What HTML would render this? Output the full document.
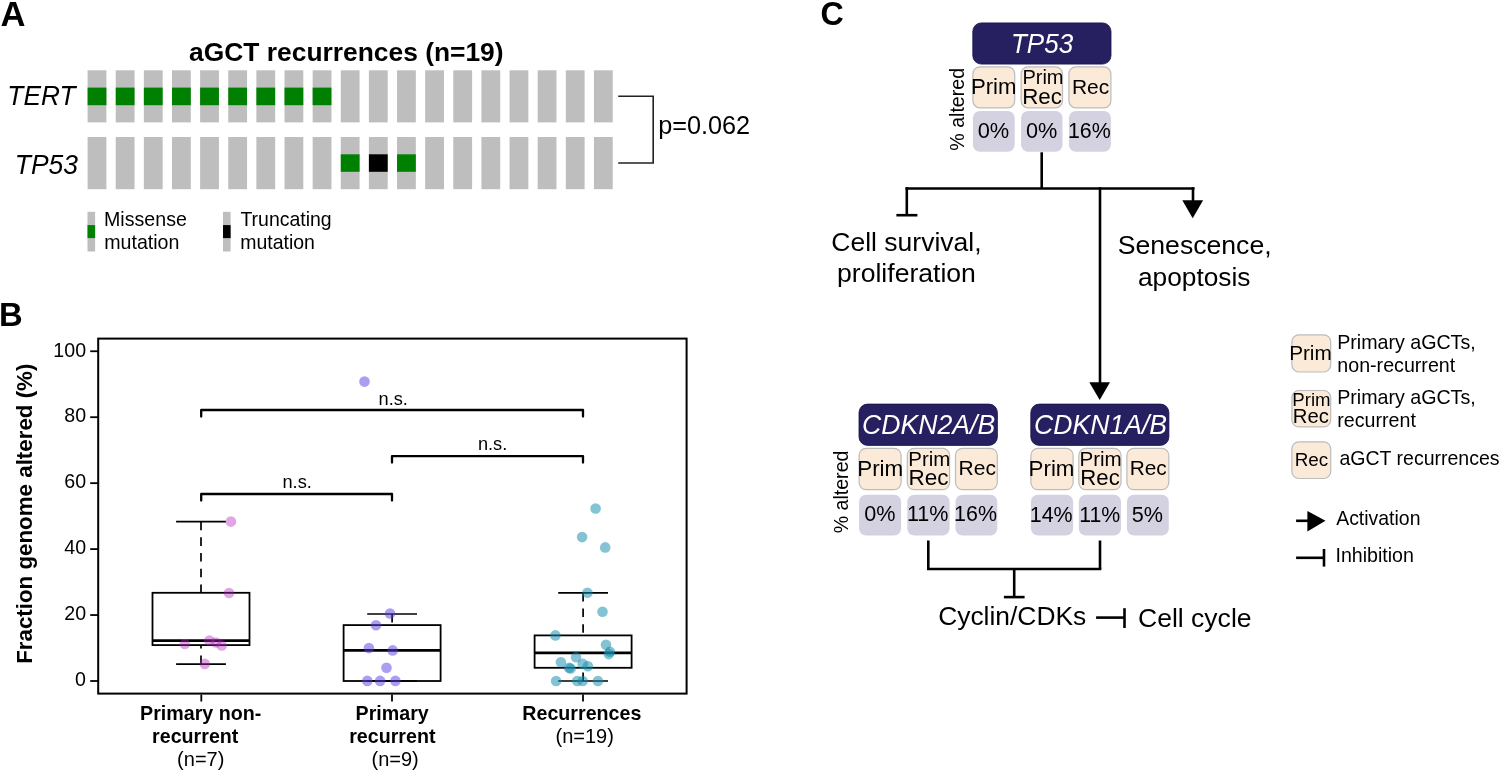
<!DOCTYPE html>
<html><head><meta charset="utf-8"><title>Figure</title>
<style>
html,body{margin:0;padding:0;background:#fff;}
body{width:1500px;height:771px;overflow:hidden;}
svg{display:block;font-family:"Liberation Sans", sans-serif;will-change:transform;}
</style></head>
<body>
<svg width="1500" height="771" viewBox="0 0 1500 771">
<rect width="1500" height="771" fill="#fff"/>
<text x="0.43" y="25.60" font-size="34.60" font-weight="bold">A</text>
<text x="189.11" y="60.50" font-size="26.39" font-weight="bold">aGCT recurrences (n=19)</text>
<text transform="translate(7.33,105.40) scale(1,1.050)" font-size="26.29" font-style="italic">TERT</text>
<text transform="translate(14.72,174.10) scale(1,1.040)" font-size="26.46" font-style="italic">TP53</text>
<rect x="87.60" y="70.30" width="18.80" height="52.10" fill="#bebebe"/>
<rect x="87.60" y="137.00" width="18.80" height="52.20" fill="#bebebe"/>
<rect x="87.60" y="87.60" width="18.80" height="17.60" fill="#008000"/>
<rect x="115.73" y="70.30" width="18.80" height="52.10" fill="#bebebe"/>
<rect x="115.73" y="137.00" width="18.80" height="52.20" fill="#bebebe"/>
<rect x="115.73" y="87.60" width="18.80" height="17.60" fill="#008000"/>
<rect x="143.86" y="70.30" width="18.80" height="52.10" fill="#bebebe"/>
<rect x="143.86" y="137.00" width="18.80" height="52.20" fill="#bebebe"/>
<rect x="143.86" y="87.60" width="18.80" height="17.60" fill="#008000"/>
<rect x="171.99" y="70.30" width="18.80" height="52.10" fill="#bebebe"/>
<rect x="171.99" y="137.00" width="18.80" height="52.20" fill="#bebebe"/>
<rect x="171.99" y="87.60" width="18.80" height="17.60" fill="#008000"/>
<rect x="200.12" y="70.30" width="18.80" height="52.10" fill="#bebebe"/>
<rect x="200.12" y="137.00" width="18.80" height="52.20" fill="#bebebe"/>
<rect x="200.12" y="87.60" width="18.80" height="17.60" fill="#008000"/>
<rect x="228.25" y="70.30" width="18.80" height="52.10" fill="#bebebe"/>
<rect x="228.25" y="137.00" width="18.80" height="52.20" fill="#bebebe"/>
<rect x="228.25" y="87.60" width="18.80" height="17.60" fill="#008000"/>
<rect x="256.38" y="70.30" width="18.80" height="52.10" fill="#bebebe"/>
<rect x="256.38" y="137.00" width="18.80" height="52.20" fill="#bebebe"/>
<rect x="256.38" y="87.60" width="18.80" height="17.60" fill="#008000"/>
<rect x="284.51" y="70.30" width="18.80" height="52.10" fill="#bebebe"/>
<rect x="284.51" y="137.00" width="18.80" height="52.20" fill="#bebebe"/>
<rect x="284.51" y="87.60" width="18.80" height="17.60" fill="#008000"/>
<rect x="312.64" y="70.30" width="18.80" height="52.10" fill="#bebebe"/>
<rect x="312.64" y="137.00" width="18.80" height="52.20" fill="#bebebe"/>
<rect x="312.64" y="87.60" width="18.80" height="17.60" fill="#008000"/>
<rect x="340.77" y="70.30" width="18.80" height="52.10" fill="#bebebe"/>
<rect x="340.77" y="137.00" width="18.80" height="52.20" fill="#bebebe"/>
<rect x="340.77" y="154.30" width="18.80" height="17.50" fill="#008000"/>
<rect x="368.90" y="70.30" width="18.80" height="52.10" fill="#bebebe"/>
<rect x="368.90" y="137.00" width="18.80" height="52.20" fill="#bebebe"/>
<rect x="368.90" y="154.30" width="18.80" height="17.50" fill="#000"/>
<rect x="397.03" y="70.30" width="18.80" height="52.10" fill="#bebebe"/>
<rect x="397.03" y="137.00" width="18.80" height="52.20" fill="#bebebe"/>
<rect x="397.03" y="154.30" width="18.80" height="17.50" fill="#008000"/>
<rect x="425.16" y="70.30" width="18.80" height="52.10" fill="#bebebe"/>
<rect x="425.16" y="137.00" width="18.80" height="52.20" fill="#bebebe"/>
<rect x="453.29" y="70.30" width="18.80" height="52.10" fill="#bebebe"/>
<rect x="453.29" y="137.00" width="18.80" height="52.20" fill="#bebebe"/>
<rect x="481.42" y="70.30" width="18.80" height="52.10" fill="#bebebe"/>
<rect x="481.42" y="137.00" width="18.80" height="52.20" fill="#bebebe"/>
<rect x="509.55" y="70.30" width="18.80" height="52.10" fill="#bebebe"/>
<rect x="509.55" y="137.00" width="18.80" height="52.20" fill="#bebebe"/>
<rect x="537.68" y="70.30" width="18.80" height="52.10" fill="#bebebe"/>
<rect x="537.68" y="137.00" width="18.80" height="52.20" fill="#bebebe"/>
<rect x="565.81" y="70.30" width="18.80" height="52.10" fill="#bebebe"/>
<rect x="565.81" y="137.00" width="18.80" height="52.20" fill="#bebebe"/>
<rect x="593.94" y="70.30" width="18.80" height="52.10" fill="#bebebe"/>
<rect x="593.94" y="137.00" width="18.80" height="52.20" fill="#bebebe"/>
<polyline points="618.2,96.2 653.2,96.2 653.2,163 618.2,163" fill="none" stroke="#222" stroke-width="1.6"/>
<text x="658.13" y="133.80" font-size="25.28">p=0.062</text>
<rect x="87.50" y="211.80" width="7.60" height="39.70" fill="#bebebe"/>
<rect x="87.50" y="225.10" width="7.60" height="13.00" fill="#008000"/>
<rect x="223.00" y="211.80" width="7.60" height="39.70" fill="#bebebe"/>
<rect x="223.00" y="225.10" width="7.60" height="13.00" fill="#000"/>
<text x="104.03" y="225.60" font-size="19.61">Missense</text>
<text x="240.41" y="225.60" font-size="19.48">Truncating</text>
<text x="104.23" y="249.00" font-size="19.61">mutation</text>
<text x="240.24" y="249.00" font-size="19.48">mutation</text>
<text transform="translate(-1.10,326.30) scale(1,1.030)" font-size="32.80" font-weight="bold">B</text>
<rect x="98.2" y="338.6" width="588.4" height="355.0" fill="none" stroke="#000" stroke-width="2"/>
<text transform="translate(53.33,357.00) scale(1,1.030)" font-size="19.61">100</text>
<text transform="translate(75.10,685.80) scale(1,1.030)" font-size="19.61">0</text>
<text transform="translate(64.31,619.85) scale(1,1.030)" font-size="19.61">20</text>
<text transform="translate(64.31,553.90) scale(1,1.030)" font-size="19.61">40</text>
<text transform="translate(64.31,487.95) scale(1,1.030)" font-size="19.61">60</text>
<text transform="translate(64.31,422.00) scale(1,1.030)" font-size="19.61">80</text>
<line x1="90.20" y1="681.00" x2="98.20" y2="681.00" stroke="#000" stroke-width="1.8"/>
<line x1="90.20" y1="615.05" x2="98.20" y2="615.05" stroke="#000" stroke-width="1.8"/>
<line x1="90.20" y1="549.10" x2="98.20" y2="549.10" stroke="#000" stroke-width="1.8"/>
<line x1="90.20" y1="483.15" x2="98.20" y2="483.15" stroke="#000" stroke-width="1.8"/>
<line x1="90.20" y1="417.20" x2="98.20" y2="417.20" stroke="#000" stroke-width="1.8"/>
<line x1="90.20" y1="351.25" x2="98.20" y2="351.25" stroke="#000" stroke-width="1.8"/>
<line x1="201.30" y1="694.60" x2="201.30" y2="701.50" stroke="#000" stroke-width="1.8"/>
<line x1="392.00" y1="694.60" x2="392.00" y2="701.50" stroke="#000" stroke-width="1.8"/>
<line x1="583.00" y1="694.60" x2="583.00" y2="701.50" stroke="#000" stroke-width="1.8"/>
<text x="140.12" y="719.50" font-size="19.65" font-weight="bold">Primary non-</text>
<text x="152.12" y="742.80" font-size="19.65" font-weight="bold">recurrent</text>
<text x="177.10" y="766.30" font-size="20.00">(n=7)</text>
<text x="355.62" y="719.60" font-size="19.65" font-weight="bold">Primary</text>
<text x="349.22" y="743.00" font-size="19.65" font-weight="bold">recurrent</text>
<text x="371.50" y="766.30" font-size="20.00">(n=9)</text>
<text x="522.32" y="719.50" font-size="19.65" font-weight="bold">Recurrences</text>
<text x="555.50" y="742.80" font-size="20.00">(n=19)</text>
<text x="0" y="0" font-size="22.34" font-weight="bold" transform="translate(31.8,663.86) rotate(-90)">Fraction genome altered (%)</text>
<polyline points="201.2,416.5 201.2,410.0 583.0,410.0 583.0,416.5" fill="none" stroke="#000" stroke-width="2.3" stroke-linejoin="round" stroke-linecap="round"/>
<polyline points="392.0,462.6 392.0,456.1 583.0,456.1 583.0,462.6" fill="none" stroke="#000" stroke-width="2.3" stroke-linejoin="round" stroke-linecap="round"/>
<polyline points="201.2,500.5 201.2,494.0 392.0,494.0 392.0,500.5" fill="none" stroke="#000" stroke-width="2.3" stroke-linejoin="round" stroke-linecap="round"/>
<text x="378.53" y="405.00" font-size="18.20">n.s.</text>
<text x="477.88" y="450.10" font-size="18.20">n.s.</text>
<text x="282.48" y="487.90" font-size="18.20">n.s.</text>
<line x1="201.00" y1="521.60" x2="201.00" y2="592.80" stroke="#000" stroke-width="1.7" stroke-dasharray="8.6 7.1"/>
<line x1="201.00" y1="664.10" x2="201.00" y2="645.10" stroke="#000" stroke-width="1.7" stroke-dasharray="8.6 7.1"/>
<line x1="176.10" y1="521.60" x2="225.90" y2="521.60" stroke="#000" stroke-width="1.7"/>
<line x1="176.10" y1="664.10" x2="225.90" y2="664.10" stroke="#000" stroke-width="1.7"/>
<rect x="152.50" y="592.80" width="97.00" height="52.30" fill="none" stroke="#000" stroke-width="1.8"/>
<line x1="152.50" y1="640.70" x2="249.50" y2="640.70" stroke="#000" stroke-width="2.8"/>
<line x1="392.10" y1="614.00" x2="392.10" y2="625.10" stroke="#000" stroke-width="1.7" stroke-dasharray="8.6 7.1"/>
<line x1="367.20" y1="614.00" x2="417.00" y2="614.00" stroke="#000" stroke-width="1.7"/>
<line x1="367.20" y1="681.00" x2="417.00" y2="681.00" stroke="#000" stroke-width="1.7"/>
<rect x="343.60" y="625.10" width="97.00" height="55.90" fill="none" stroke="#000" stroke-width="1.8"/>
<line x1="343.60" y1="650.40" x2="440.60" y2="650.40" stroke="#000" stroke-width="2.8"/>
<line x1="583.10" y1="592.80" x2="583.10" y2="635.40" stroke="#000" stroke-width="1.7" stroke-dasharray="8.6 7.1"/>
<line x1="583.10" y1="681.00" x2="583.10" y2="667.80" stroke="#000" stroke-width="1.7" stroke-dasharray="8.6 7.1"/>
<line x1="558.20" y1="592.80" x2="608.00" y2="592.80" stroke="#000" stroke-width="1.7"/>
<line x1="558.20" y1="681.00" x2="608.00" y2="681.00" stroke="#000" stroke-width="1.7"/>
<rect x="534.60" y="635.40" width="97.00" height="32.40" fill="none" stroke="#000" stroke-width="1.8"/>
<line x1="534.60" y1="652.80" x2="631.60" y2="652.80" stroke="#000" stroke-width="2.8"/>
<circle cx="230.9" cy="521.6" r="5.3" fill="rgba(180,35,190,0.40)"/>
<circle cx="229.0" cy="593.0" r="5.3" fill="rgba(180,35,190,0.40)"/>
<circle cx="184.8" cy="644.0" r="5.3" fill="rgba(180,35,190,0.40)"/>
<circle cx="209.4" cy="640.5" r="5.3" fill="rgba(180,35,190,0.40)"/>
<circle cx="215.9" cy="642.5" r="5.3" fill="rgba(180,35,190,0.40)"/>
<circle cx="221.7" cy="645.4" r="5.3" fill="rgba(180,35,190,0.40)"/>
<circle cx="204.8" cy="663.9" r="5.3" fill="rgba(180,35,190,0.40)"/>
<circle cx="364.5" cy="381.6" r="5.3" fill="rgba(90,60,225,0.50)"/>
<circle cx="390.0" cy="613.5" r="5.3" fill="rgba(90,60,225,0.50)"/>
<circle cx="376.0" cy="625.3" r="5.3" fill="rgba(90,60,225,0.50)"/>
<circle cx="368.9" cy="648.1" r="5.3" fill="rgba(90,60,225,0.50)"/>
<circle cx="392.7" cy="650.4" r="5.3" fill="rgba(90,60,225,0.50)"/>
<circle cx="386.5" cy="667.8" r="5.3" fill="rgba(90,60,225,0.50)"/>
<circle cx="367.3" cy="680.9" r="5.3" fill="rgba(90,60,225,0.50)"/>
<circle cx="380.1" cy="680.9" r="5.3" fill="rgba(90,60,225,0.50)"/>
<circle cx="395.4" cy="680.9" r="5.3" fill="rgba(90,60,225,0.50)"/>
<circle cx="595.6" cy="508.5" r="5.3" fill="rgba(20,140,170,0.52)"/>
<circle cx="582.1" cy="537.1" r="5.3" fill="rgba(20,140,170,0.52)"/>
<circle cx="605.2" cy="547.4" r="5.3" fill="rgba(20,140,170,0.52)"/>
<circle cx="587.4" cy="592.7" r="5.3" fill="rgba(20,140,170,0.52)"/>
<circle cx="602.5" cy="611.7" r="5.3" fill="rgba(20,140,170,0.52)"/>
<circle cx="555.4" cy="635.4" r="5.3" fill="rgba(20,140,170,0.52)"/>
<circle cx="606.0" cy="644.8" r="5.3" fill="rgba(20,140,170,0.52)"/>
<circle cx="609.9" cy="651.8" r="5.3" fill="rgba(20,140,170,0.52)"/>
<circle cx="608.8" cy="654.1" r="5.3" fill="rgba(20,140,170,0.52)"/>
<circle cx="576.1" cy="657.2" r="5.3" fill="rgba(20,140,170,0.52)"/>
<circle cx="560.9" cy="662.3" r="5.3" fill="rgba(20,140,170,0.52)"/>
<circle cx="569.1" cy="667.7" r="5.3" fill="rgba(20,140,170,0.52)"/>
<circle cx="570.6" cy="668.5" r="5.3" fill="rgba(20,140,170,0.52)"/>
<circle cx="582.7" cy="663.9" r="5.3" fill="rgba(20,140,170,0.52)"/>
<circle cx="587.9" cy="666.2" r="5.3" fill="rgba(20,140,170,0.52)"/>
<circle cx="556.1" cy="681.0" r="5.3" fill="rgba(20,140,170,0.52)"/>
<circle cx="577.2" cy="681.0" r="5.3" fill="rgba(20,140,170,0.52)"/>
<circle cx="582.7" cy="681.0" r="5.3" fill="rgba(20,140,170,0.52)"/>
<circle cx="597.9" cy="681.0" r="5.3" fill="rgba(20,140,170,0.52)"/>
<text transform="translate(820.50,24.70) scale(1,1.050)" font-size="32.20" font-weight="bold">C</text>
<rect x="972.80" y="22.90" width="138.20" height="41.20" rx="8.5" fill="#262060" stroke="#14104a" stroke-width="0.8"/>
<rect x="972.90" y="66.80" width="41.80" height="41.00" rx="7" fill="#fbead8" stroke="#bcbcbc" stroke-width="1.2"/>
<rect x="1021.10" y="66.80" width="41.40" height="41.00" rx="7" fill="#fbead8" stroke="#bcbcbc" stroke-width="1.2"/>
<rect x="1068.90" y="66.80" width="42.00" height="41.00" rx="7" fill="#fbead8" stroke="#bcbcbc" stroke-width="1.2"/>
<rect x="972.90" y="110.90" width="41.80" height="40.90" rx="7" fill="#d4d2e1"/>
<rect x="1021.10" y="110.90" width="41.40" height="40.90" rx="7" fill="#d4d2e1"/>
<rect x="1068.90" y="110.90" width="42.00" height="40.90" rx="7" fill="#d4d2e1"/>
<text transform="translate(1010.96,52.90) scale(1,1.070)" font-size="26.03" font-style="italic" fill="#fff">TP53</text>
<text x="970.93" y="94.10" font-size="22.15">Prim</text>
<text x="1022.40" y="84.40" font-size="20.00">Prim</text>
<text x="1071.92" y="93.50" font-size="20.96">Rec</text>
<text x="977.73" y="137.80" font-size="21.82">0%</text>
<text x="1067.99" y="137.80" font-size="21.38">16%</text>
<text x="1022.21" y="103.80" font-size="22.34">Rec</text>
<text x="1026.07" y="137.80" font-size="21.70">0%</text>
<text x="0" y="0" font-size="19.6" text-anchor="middle" transform="translate(964.40,109.30) rotate(-90)">% altered</text>
<rect x="859.00" y="404.10" width="138.40" height="41.30" rx="8.5" fill="#262060" stroke="#14104a" stroke-width="0.8"/>
<rect x="859.10" y="448.30" width="42.00" height="41.30" rx="7" fill="#fbead8" stroke="#bcbcbc" stroke-width="1.2"/>
<rect x="907.30" y="448.30" width="42.30" height="41.30" rx="7" fill="#fbead8" stroke="#bcbcbc" stroke-width="1.2"/>
<rect x="955.50" y="448.30" width="41.80" height="41.30" rx="7" fill="#fbead8" stroke="#bcbcbc" stroke-width="1.2"/>
<rect x="859.10" y="494.80" width="42.00" height="40.80" rx="7" fill="#d4d2e1"/>
<rect x="907.30" y="494.80" width="42.30" height="40.80" rx="7" fill="#d4d2e1"/>
<rect x="955.50" y="494.80" width="41.80" height="40.80" rx="7" fill="#d4d2e1"/>
<rect x="1030.80" y="404.10" width="138.10" height="41.30" rx="8.5" fill="#262060" stroke="#14104a" stroke-width="0.8"/>
<rect x="1030.90" y="448.30" width="42.20" height="41.30" rx="7" fill="#fbead8" stroke="#bcbcbc" stroke-width="1.2"/>
<rect x="1078.80" y="448.30" width="42.20" height="41.30" rx="7" fill="#fbead8" stroke="#bcbcbc" stroke-width="1.2"/>
<rect x="1126.90" y="448.30" width="41.90" height="41.30" rx="7" fill="#fbead8" stroke="#bcbcbc" stroke-width="1.2"/>
<rect x="1030.90" y="494.80" width="42.20" height="40.80" rx="7" fill="#d4d2e1"/>
<rect x="1078.80" y="494.80" width="42.20" height="40.80" rx="7" fill="#d4d2e1"/>
<rect x="1126.90" y="494.80" width="41.90" height="40.80" rx="7" fill="#d4d2e1"/>
<text transform="translate(862.10,434.10) scale(1,1.060)" font-size="26.64" font-style="italic" fill="#fff">CDKN2A/B</text>
<text transform="translate(1034.00,434.20) scale(1,1.060)" font-size="26.62" font-style="italic" fill="#fff">CDKN1A/B</text>
<text x="857.21" y="475.90" font-size="22.41">Prim</text>
<text x="908.36" y="466.30" font-size="20.47">Prim</text>
<text x="908.60" y="485.30" font-size="22.51">Rec</text>
<text x="958.62" y="475.40" font-size="21.02">Rec</text>
<text x="864.14" y="521.30" font-size="21.61">0%</text>
<text x="906.88" y="521.30" font-size="21.55">11%</text>
<text x="954.09" y="521.30" font-size="21.43">16%</text>
<text x="1028.62" y="475.70" font-size="22.30">Prim</text>
<text x="1079.45" y="466.00" font-size="20.58">Prim</text>
<text x="1080.33" y="484.80" font-size="22.16">Rec</text>
<text x="1129.73" y="475.30" font-size="20.84">Rec</text>
<text x="1029.79" y="521.70" font-size="21.43">14%</text>
<text x="1079.30" y="521.70" font-size="21.27">11%</text>
<text x="1131.84" y="521.70" font-size="21.61">5%</text>
<text x="0" y="0" font-size="19.6" text-anchor="middle" transform="translate(847.80,491.95) rotate(-90)">% altered</text>
<line x1="1041.70" y1="152.30" x2="1041.70" y2="188.50" stroke="#000" stroke-width="2.6"/>
<line x1="905.50" y1="188.50" x2="1194.50" y2="188.50" stroke="#000" stroke-width="2.6"/>
<line x1="906.80" y1="187.20" x2="906.80" y2="215.20" stroke="#000" stroke-width="2.6"/>
<line x1="896.40" y1="215.20" x2="917.40" y2="215.20" stroke="#000" stroke-width="2.6"/>
<line x1="1100.00" y1="187.20" x2="1100.00" y2="384.00" stroke="#000" stroke-width="2.6"/>
<line x1="1193.00" y1="187.20" x2="1193.00" y2="202.00" stroke="#000" stroke-width="2.6"/>
<polygon points="1182.3,200.2 1203.1,200.2 1192.7,218.2" fill="#000"/>
<polygon points="1089.3,382.3 1110.0,382.3 1099.7,399.9" fill="#000"/>
<text x="831.27" y="250.60" font-size="26.53">Cell survival,</text>
<text x="837.04" y="282.10" font-size="26.58">proliferation</text>
<text x="1117.77" y="253.80" font-size="26.61">Senescence,</text>
<text x="1137.95" y="286.00" font-size="26.31">apoptosis</text>
<text x="938.18" y="625.00" font-size="26.40">Cyclin/CDKs</text>
<text x="1137.97" y="626.90" font-size="26.56">Cell cycle</text>
<line x1="928.30" y1="540.50" x2="928.30" y2="569.00" stroke="#000" stroke-width="2.6"/>
<line x1="1100.00" y1="540.50" x2="1100.00" y2="569.00" stroke="#000" stroke-width="2.6"/>
<line x1="927.00" y1="569.00" x2="1101.30" y2="569.00" stroke="#000" stroke-width="2.6"/>
<line x1="1014.20" y1="569.00" x2="1014.20" y2="597.10" stroke="#000" stroke-width="2.6"/>
<line x1="1003.90" y1="597.10" x2="1024.60" y2="597.10" stroke="#000" stroke-width="2.6"/>
<line x1="1096.10" y1="617.60" x2="1124.50" y2="617.60" stroke="#000" stroke-width="2.6"/>
<line x1="1124.50" y1="608.20" x2="1124.50" y2="628.00" stroke="#000" stroke-width="2.6"/>
<rect x="1291.9" y="334.80" width="38.8" height="37.20" rx="7" fill="#fbead8" stroke="#bcbcbc" stroke-width="1.2"/>
<rect x="1291.9" y="390.50" width="38.8" height="36.40" rx="7" fill="#fbead8" stroke="#bcbcbc" stroke-width="1.2"/>
<rect x="1291.9" y="441.90" width="38.8" height="36.60" rx="7" fill="#fbead8" stroke="#bcbcbc" stroke-width="1.2"/>
<text x="1289.14" y="359.90" font-size="20.73">Prim</text>
<text x="1294.69" y="466.30" font-size="18.86">Rec</text>
<text x="1292.31" y="406.00" font-size="18.64">Prim</text>
<text x="1292.78" y="423.10" font-size="20.24">Rec</text>
<text x="1337.13" y="349.10" font-size="19.65">Primary aGCTs,</text>
<text x="1337.32" y="371.50" font-size="19.65">non-recurrent</text>
<text x="1337.13" y="404.10" font-size="19.65">Primary aGCTs,</text>
<text x="1337.32" y="427.30" font-size="19.65">recurrent</text>
<text x="1339.42" y="465.30" font-size="19.53">aGCT recurrences</text>
<line x1="1296.10" y1="520.80" x2="1309.00" y2="520.80" stroke="#000" stroke-width="2.6"/>
<polygon points="1307.4,511.0 1325.5,520.8 1307.4,531.4" fill="#000"/>
<text x="1336.20" y="524.80" font-size="19.46">Activation</text>
<line x1="1296.10" y1="557.80" x2="1324.00" y2="557.80" stroke="#000" stroke-width="2.6"/>
<line x1="1324.00" y1="549.00" x2="1324.00" y2="566.60" stroke="#000" stroke-width="2.6"/>
<text x="1335.44" y="561.60" font-size="19.61">Inhibition</text>
</svg>
</body></html>
